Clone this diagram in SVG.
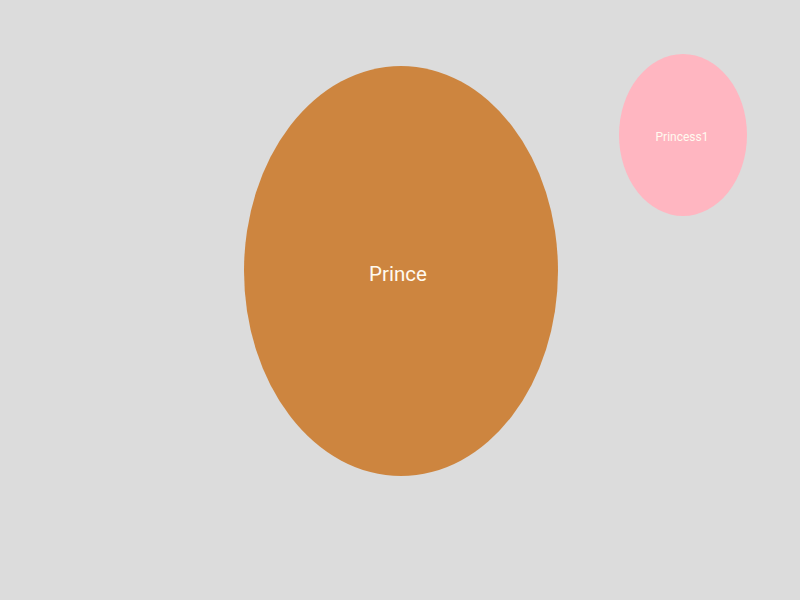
<svg xmlns="http://www.w3.org/2000/svg" width="800" height="600" viewBox="0 0 800 600">
<style>
.lbl{font-family:Roboto,"Liberation Sans",sans-serif;fill:#fffaf0;text-anchor:middle;dominant-baseline:central}
</style>
<rect x="0" y="0" width="800" height="600" fill="#dcdcdc"/>
<g id="connectors"></g>
<g id="prince">
<ellipse cx="401" cy="271" rx="157" ry="205" fill="#cd853f"/>
<text class="lbl" x="398" y="274" font-size="20.5">Prince</text>
</g>
<g id="princess1">
<ellipse cx="683" cy="135" rx="64" ry="81" fill="#ffb6c1"/>
<text class="lbl" x="682" y="137" font-size="12">Princess1</text>
</g>
</svg>
